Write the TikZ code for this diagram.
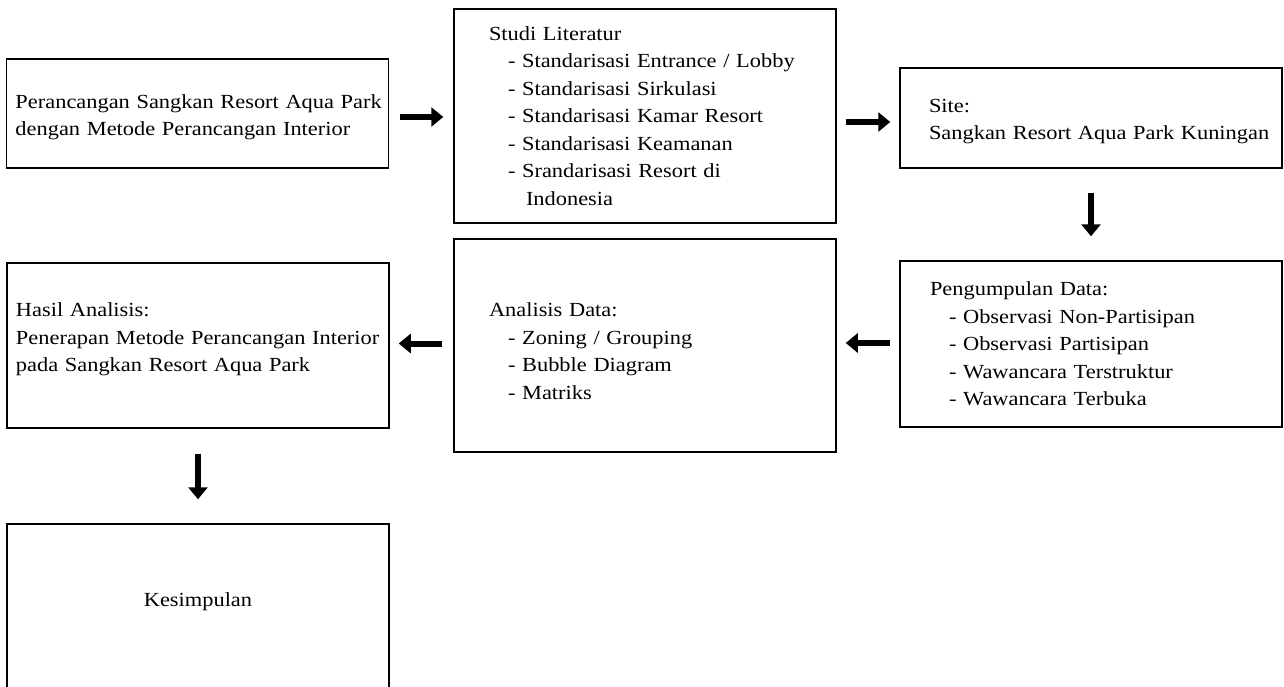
\documentclass[tikz,border=0pt]{standalone}
\usepackage{fontspec}
\setmainfont{Liberation Serif}[FakeStretch=1.12]
\usetikzlibrary{arrows.meta}

\newcommand{\butir}[1]{\hspace*{19pt}- #1}

\begin{document}
\begin{tikzpicture}[x=1pt,y=-1pt,font=\fontsize{20}{27.5}\selectfont,
		box/.style={draw,line width=1.5pt,inner sep=0pt,text width=382pt,align=left},
		lead/.style={execute at begin node={\leftskip=#1pt}},
		flow/.style={line width=6pt,-{Triangle[length=12pt,width=19pt]}}]
			\useasboundingbox (0,0) rectangle (1284,686);

			\node[box,lead=9,minimum height=109pt,text height=21pt] (perancangan) at (197.5,113.5) {Perancangan Sangkan Resort Aqua Park\\dengan Metode Perancangan Interior};
			\node[box,lead=35,minimum height=214pt] (studi) at (645,116) {Studi Literatur\\\butir{Standarisasi Entrance / Lobby}\\\butir{Standarisasi Sirkulasi}\\\butir{Standarisasi Kamar Resort}\\\butir{Standarisasi Keamanan}\\\butir{Srandarisasi Resort di}\\\hspace*{37pt}Indonesia};
			\node[box,lead=29,minimum height=100pt,text height=20pt] (site) at (1091,118) {Site:\\Sangkan Resort Aqua Park Kuningan};
			\node[box,lead=30,minimum height=166pt] (pengumpulan) at (1091,344) {Pengumpulan Data:\\\butir{Observasi Non-Partisipan}\\\butir{Observasi Partisipan}\\\butir{Wawancara Terstruktur}\\\butir{Wawancara Terbuka}};
			\node[box,lead=35,minimum height=213pt,text height=25.5pt] (analisis) at (645,345.5) {Analisis Data:\\\butir{Zoning / Grouping}\\\butir{Bubble Diagram}\\\butir{Matriks}};
			\node[box,lead=9,minimum height=165pt,text depth=71pt] (hasil) at (198,345.5) {Hasil Analisis:\\Penerapan Metode Perancangan Interior\\pada Sangkan Resort Aqua Park};
			\node[box,align=center,minimum height=166pt,text depth=14pt] (kesimpulan) at (198,607) {Kesimpulan};

			% alur
			\path[flow] ([yshift=-3.5pt]perancangan.east) edge[shorten <=11pt,shorten >=10pt] ([yshift=-1pt]studi.west)
						([yshift=-6pt]studi.east) edge[shorten <=9pt,shorten >=9pt] ([yshift=-4pt]site.west)
						(site) edge[shorten <=24pt,shorten >=24pt] (pengumpulan)
						([yshift=1pt]pengumpulan.west) edge[shorten <=9pt,shorten >=9pt] ([yshift=2.5pt]analisis.east)
						([yshift=2pt]analisis.west) edge[shorten <=11pt,shorten >=9pt] ([yshift=2pt]hasil.east)
						(hasil) edge[shorten <=25pt,shorten >=24pt] (kesimpulan);
		\end{tikzpicture}
\end{document}
